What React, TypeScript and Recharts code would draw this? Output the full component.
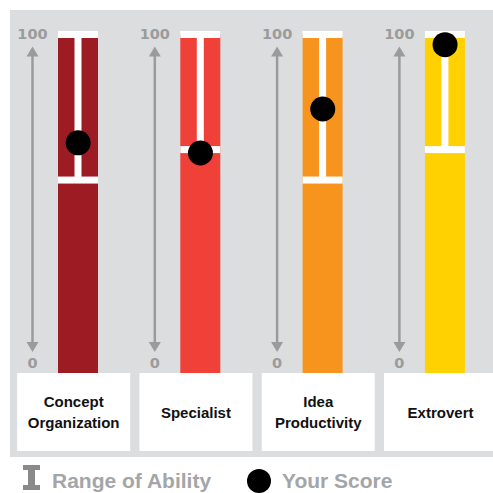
import { Bar, Cell, ComposedChart, Line, XAxis, YAxis } from "recharts";

const categories = ["Concept\nOrganization", "Specialist", "Idea\nProductivity", "Extrovert"];
const rangeLow = [57, 66, 57, 66];
const rangeHigh = [100, 100, 100, 100];
const scores = [68, 65, 78, 97];
const yTicks = [0, 100];

const barColors = ["#9d1c23", "#f04139", "#f7941e", "#ffd100"];
const LABEL_FONT = "'Liberation Sans', Arial, sans-serif";

const data = categories.map((name, i) => ({
  name,
  full: yTicks[1],
  range: [rangeLow[i], rangeHigh[i]],
  axis: [yTicks[0], yTicks[1]],
  score: scores[i],
}));

// white label box under each column; the tick y comes in 30px below the plot bottom
function CategoryTick(props: any) {
  const { x, payload } = props;
  const y = props.y - 30;
  const lines = String(payload.value).split("\n");
  const left = x - 61;
  const cx = left + 56.5;
  return (
    <g>
      <rect x={left} y={y} width={113} height={78} fill="#fff" />
      {lines.map((line, i) => (
        <text
          key={line}
          x={cx}
          y={y + 39 + (i - (lines.length - 1) / 2) * 21}
          textAnchor="middle"
          dominantBaseline="central"
          fontFamily={LABEL_FONT}
          fontWeight="bold"
          fontSize={15}
          fill="#111"
        >
          {line}
        </text>
      ))}
    </g>
  );
}

function RangeShape(props: any) {
  const { x, y, width, height } = props;
  const cx = x + width / 2;
  return (
    <g fill="#fff">
      <rect x={cx - 3.5} y={y} width={7} height={height} />
      <rect x={x} y={y - 3.5} width={width} height={7} />
      <rect x={x} y={y + height - 3.5} width={width} height={7} />
    </g>
  );
}

// 0..100 arrow drawn to the left of each column
function AxisShape(props: any) {
  const { x, y, width, height } = props;
  const ax = x + width / 2 - 45.5;
  const top = y + 12;
  const bottom = y + height - 21;
  const gray = "#9b9b9b";
  return (
    <g>
      <text
        x={ax}
        y={y - 1}
        textAnchor="middle"
        dominantBaseline="central"
        fontFamily="'DejaVu Sans', sans-serif"
        fontWeight="bold"
        fontSize={14.5}
        fill={gray}
      >
        {yTicks[1]}
      </text>
      <text
        x={ax}
        y={y + height - 10}
        textAnchor="middle"
        dominantBaseline="central"
        fontFamily="'DejaVu Sans', sans-serif"
        fontWeight="bold"
        fontSize={14.5}
        fill={gray}
      >
        {yTicks[0]}
      </text>
      <rect x={ax - 1.25} y={top + 6} width={2.5} height={bottom - top - 12} fill={gray} />
      <polygon points={`${ax},${top} ${ax - 6},${top + 10} ${ax + 6},${top + 10}`} fill={gray} />
      <polygon
        points={`${ax},${bottom} ${ax - 6},${bottom - 10} ${ax + 6},${bottom - 10}`}
        fill={gray}
      />
    </g>
  );
}

function ScoreDot(props: any) {
  const { cx, cy, index } = props;
  return <circle key={index} cx={cx} cy={cy} r={12.5} fill="#000" />;
}

export default function App() {
  return (
    <div
      style={{
        position: "absolute",
        left: 0,
        top: 0,
        width: 493,
        height: 493,
        overflow: "hidden",
        background: "#fff",
      }}
    >
      <div
        style={{
          position: "absolute",
          left: 10,
          top: 10,
          width: 483,
          height: 447,
          background: "#dcdddf",
        }}
      />
      <div style={{ position: "absolute", left: 0, top: 0 }}>
        <ComposedChart
          width={520}
          height={457}
          data={data}
          margin={{ top: 34.5, right: 13.8, bottom: 6, left: 17 }}
        >
          <XAxis
            xAxisId="bars"
            dataKey="name"
            axisLine={false}
            tickLine={false}
            tickSize={0}
            tickMargin={0}
            height={78}
            interval={0}
            tick={<CategoryTick />}
          />
          <XAxis xAxisId="range" dataKey="name" hide />
          <XAxis xAxisId="axis" dataKey="name" hide />
          <YAxis domain={[yTicks[0], yTicks[1]]} ticks={yTicks} hide />
          <Bar xAxisId="axis" dataKey="axis" barSize={40} shape={<AxisShape />} isAnimationActive={false} />
          <Bar xAxisId="bars" dataKey="full" barSize={40} isAnimationActive={false}>
            {data.map((d, i) => (
              <Cell key={d.name} fill={barColors[i]} />
            ))}
          </Bar>
          <Bar xAxisId="range" dataKey="range" barSize={40} shape={<RangeShape />} isAnimationActive={false} />
          <Line
            xAxisId="bars"
            dataKey="score"
            stroke="none"
            dot={<ScoreDot />}
            activeDot={false}
            isAnimationActive={false}
          />
        </ComposedChart>
      </div>
      <div style={{ position: "absolute", left: 0, top: 457, width: 493, height: 36 }}>
        <svg width={493} height={36}>
          <g fill="#8a8a8a">
            <rect x={23} y={8} width={17} height={5} />
            <rect x={28} y={8} width={7} height={25} />
            <rect x={23} y={28} width={17} height={5} />
          </g>
          <text x={52} y={31} fontFamily={LABEL_FONT} fontWeight="bold" fontSize={21} fill="#a3a5a9">
            Range of Ability
          </text>
          <circle cx={259} cy={24} r={12} fill="#000" />
          <text x={282} y={31} fontFamily={LABEL_FONT} fontWeight="bold" fontSize={21} fill="#a3a5a9">
            Your Score
          </text>
        </svg>
      </div>
    </div>
  );
}
